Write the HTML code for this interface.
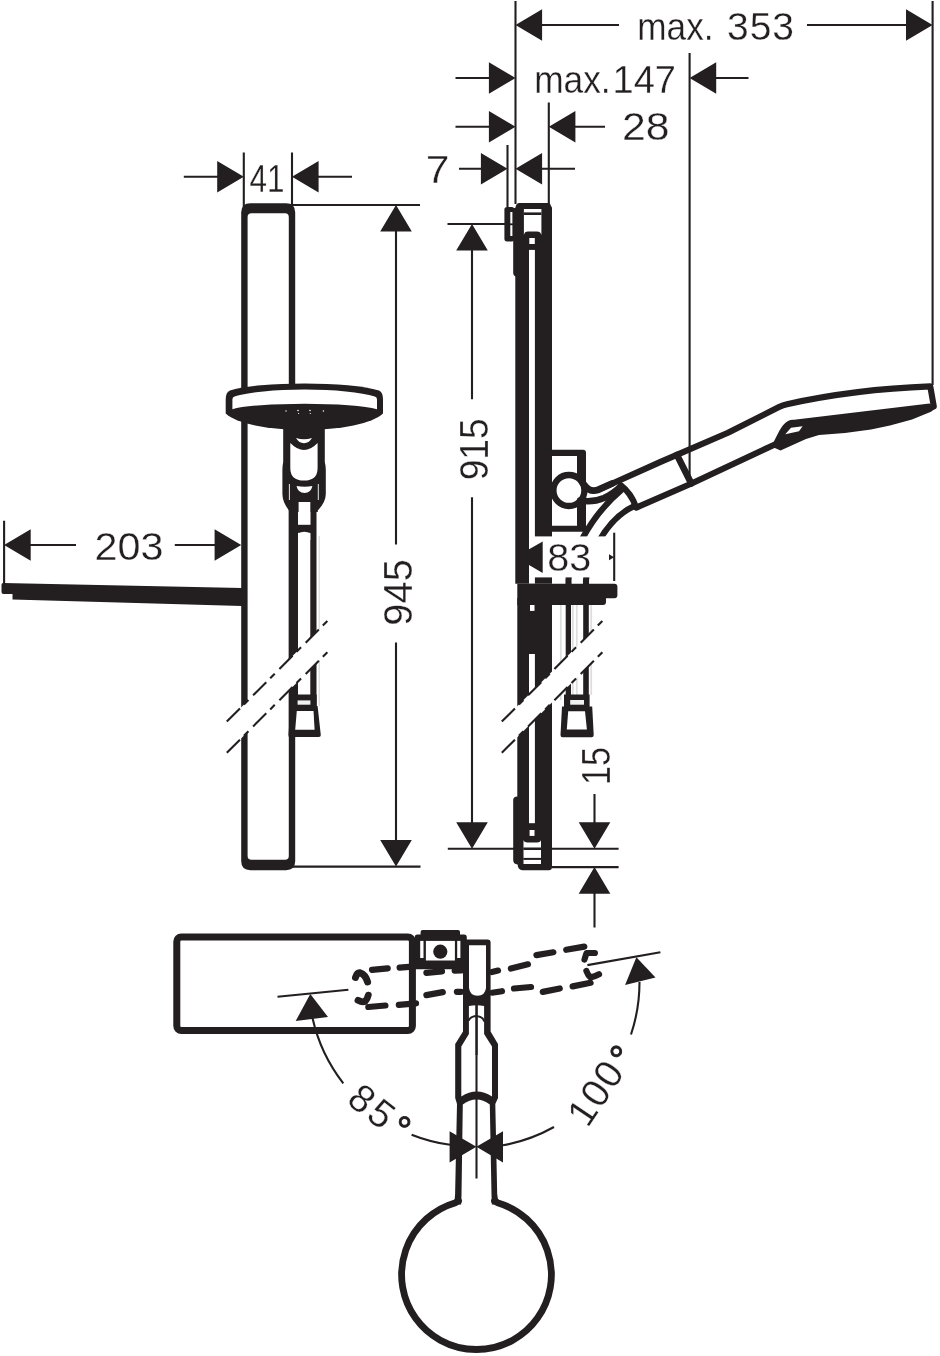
<!DOCTYPE html>
<html><head><meta charset="utf-8"><title>Dimensional drawing</title>
<style>
html,body{margin:0;padding:0;background:#fff;}
svg{display:block;will-change:transform;}
text{font-family:"Liberation Sans",sans-serif;fill:#231f20;stroke:#fff;stroke-width:0.3;paint-order:fill stroke;}
.k{fill:#231f20;}
.w{fill:#fff;}
.t{stroke:#231f20;stroke-width:2.1;fill:none;}
.s{stroke:#231f20;fill:none;stroke-linecap:round;stroke-linejoin:round;}
</style></head>
<body>
<svg width="940" height="1356" viewBox="0 0 940 1356">
<rect width="940" height="1356" fill="#fff"/>

<!-- ================= DIMENSIONS TOP RIGHT ================= -->
<g id="dims-top">
<path class="t" d="M515.5 1V204 M932.6 1V385 M689.6 53V475 M548.8 102.5V204 M507.5 145V207"/>
<path class="t" d="M541 25H619 M807 25H907"/>
<path class="k" d="M515.5 25L542.1 9.2V40.8Z M932.6 25L906.0 9.2V40.8Z"/>
<text y="40" font-size="39"><tspan x="637.3" textLength="86" lengthAdjust="spacingAndGlyphs">max. </tspan><tspan x="727" textLength="67" lengthAdjust="spacing">353</tspan></text>
<path class="t" d="M455.5 78H490 M715 78H748.5"/>
<path class="k" d="M515.5 78L488.9 62.2V93.8Z M689.6 78L716.2 62.2V93.8Z"/>
<text y="92.5" font-size="38.5"><tspan x="534.2" textLength="76.5" lengthAdjust="spacingAndGlyphs">max.</tspan><tspan x="612.5" textLength="63.5" lengthAdjust="spacingAndGlyphs">147</tspan></text>
<path class="t" d="M455.5 126.8H490 M575 126.8H605"/>
<path class="k" d="M515.5 126.8L488.9 111.0V142.6Z M548.8 126.8L575.4 111.0V142.6Z"/>
<text x="622" y="140" font-size="38.5" textLength="47.5" lengthAdjust="spacingAndGlyphs">28</text>
<path class="t" d="M459 168.8H482 M542 168.8H575"/>
<path class="k" d="M507.5 168.8L480.9 153.0V184.60000000000002Z M515.5 168.8L542.1 153.0V184.60000000000002Z"/>
<text x="425.7" y="183" font-size="38.5" textLength="23.7" lengthAdjust="spacingAndGlyphs">7</text>
</g>
<g id="dims-left">
<path class="t" d="M243.8 152.5V207 M292 152.5V205 M183.8 176.8H218 M318 176.8H352"/>
<path class="k" d="M243.8 176.8L217.20000000000002 161.0V192.60000000000002Z M292 176.8L318.6 161.0V192.60000000000002Z"/>
<text x="249.5" y="191.7" font-size="38" textLength="35" lengthAdjust="spacingAndGlyphs">41</text>
<path class="t" d="M290 205H420 M290 866.6H420.5 M396 231V544.5 M396 642.6V842"/>
<path class="k" d="M396 205L380.2 231.6H411.8Z M396 866.6L380.2 840.0H411.8Z"/>
<text transform="translate(411.7 625.7) rotate(-90)" font-size="41.5" textLength="66.5" lengthAdjust="spacingAndGlyphs">945</text>
<path class="t" d="M447.5 224H505 M447.8 848.8H618.6 M552 867.1H618.6 M472 250V399.3 M472 497.3V824"/>
<path class="k" d="M472 224L456.2 250.6H487.8Z M472 848.8L456.2 822.1999999999999H487.8Z"/>
<text transform="translate(488.2 480.3) rotate(-90)" font-size="41.5" textLength="62" lengthAdjust="spacingAndGlyphs">915</text>
<path class="t" d="M4.1 520.7V584 M29 545H76 M174.8 545H219"/>
<path class="k" d="M4.1 545L30.700000000000003 529.2V560.8Z M241.2 545L214.6 529.2V560.8Z"/>
<text x="94.5" y="560.3" font-size="38.5" textLength="69" lengthAdjust="spacingAndGlyphs">203</text>
<path class="t" d="M594.5 794V824 M594.5 892V927.4"/>
<path class="k" d="M594.5 848.8L578.7 822.1999999999999H610.3Z M594.5 867.1L578.7 893.7H610.3Z"/>
<text transform="translate(609.7 785) rotate(-90)" font-size="41" textLength="38" lengthAdjust="spacingAndGlyphs">15</text>
</g>

<!--LEFTVIEW_START-->
<g id="left-view">
<!-- shelf -->
<path class="k" d="M3 583 Q1.5 583 1.5 585 V592 Q1.5 594 3.5 594 H12.5 V599.6 L242 606 V588 Z"/>
<!-- bar: outer black, inner white -->
<path class="k" d="M241.2 212.5 Q241.2 203.3 250.4 203.3 H286 Q295.2 203.3 295.2 212.5 V861 Q295.2 870.2 286 870.2 H250.4 Q241.2 870.2 241.2 861Z"/>
<path class="w" d="M247.6 217 Q247.6 213.2 251.5 213.2 H285 Q288.8 213.2 288.8 217 V856 Q288.8 859.8 285 859.8 H251.5 Q247.6 859.8 247.6 856Z"/>
<!-- hose (below handle) -->
<rect class="k" x="288.8" y="505" width="9.2" height="232"/>
<rect class="k" x="310.3" y="505" width="6.2" height="232"/>
<rect x="318.6" y="536" width="1.2" height="170" fill="#d8d8d8"/>
<!-- break band -->
<path class="w" d="M221 727.4 L334 614.4 V645.6 L221 758.6Z"/>
<path class="t" stroke-width="2.5" stroke-dasharray="18.6 5.6 6.4 6.6" d="M226.8 721.6L328.6 619.8 M226.8 752.8L328.6 651"/>
<!-- hose connector -->
<path class="k" d="M295.2 694.4H316.7V706H317.6L320.8 735Q320.8 737 318.8 737H290.5Q288.4 737 288.5 735L290.5 706H295.2Z"/>
<rect x="297.6" y="700.4" width="12.8" height="4.3" fill="#f1f1f1"/>
<path class="w" d="M296.8 711H313.5L314.6 729.8H295.2Z"/>
<!-- shower head (front) -->
<path class="k" d="M225.7 399.5 Q225.7 392 230 390.5 A85 13.7 0 0 1 379 390.5 Q383 392 383 399.5 V413.5 A82 23 0 0 1 225.7 413.5Z"/>
<path class="w" d="M232.4 399.5 Q232.4 397 234.5 396.6 A79 13 0 0 1 374.8 396.6 Q377 397 377 399.5 V409.2 A78 8.9 0 0 0 232.4 409.2Z"/>
<g fill="#fff"><circle cx="286" cy="411" r="0.7"/><circle cx="298" cy="410.5" r="0.8"/><circle cx="298.6" cy="413.5" r="0.6"/><circle cx="310" cy="410.5" r="0.8"/><circle cx="310.3" cy="413.5" r="0.6"/><circle cx="323.4" cy="411" r="0.7"/></g>
<!-- handle -->
<path class="k" d="M283.2 428 H324.8 V462 Q325.8 466 325.8 470 V494 Q325.8 502 317.8 510.5 V512 H289 V510.5 Q282.4 502 282.4 494 V470 Q282.4 466 283.2 462Z"/>
<!-- inner white 1 -->
<path class="w" d="M290.3 443 Q304 457 317.6 443 V468 Q317.6 480.6 304 480.6 Q290.3 480.6 290.3 468Z"/>
<!-- crescent 1 -->
<path class="w" d="M296 438 Q304 440.5 312 438 Q309 443.2 304 443.2 Q299 443.2 296 438Z"/>
<!-- crescent 2 -->
<path class="w" d="M296.5 486 Q304.5 487.5 312.4 486 Q311 493 304.5 493 Q298 493 296.5 486Z"/>
<path d="M289.4 484V500 M318.3 484V500" stroke="#fff" stroke-width="0.9" fill="none"/>
<!-- white rect 3 and hose interior -->
<rect class="w" x="298.6" y="502" width="11.7" height="22.8"/>
<rect class="k" x="297" y="524.8" width="14" height="8"/>
<path class="w" d="M298.2 533.5 Q304.3 530 310.3 533.5 V540 H298.2Z"/>
</g>
<!--LEFTVIEW_END-->
<!--RIGHTVIEW_START-->
<g id="right-view">
<!-- bar side view -->
<path class="k" d="M519.5 203 H549.6 L552 207.8 V583.7 H515.3 V276.5 Q513.2 276 513.2 273 V210 Q513.2 207.8 515.4 207.8 Q516 203 519.5 203Z"/>
<path class="k" d="M517.3 598 H552 V867 Q552 870.2 548.8 870.2 H522.5 Q518 870.2 517.6 864.5 Q513.2 864 513.2 860 V800 Q513.2 796.4 517.3 796.4Z"/>
<!-- white slot -->
<rect class="w" x="529" y="249.9" width="5.9" height="333.8"/>
<rect class="w" x="529.3" y="238" width="5.5" height="6"/>
<rect class="w" x="530" y="604.2" width="4.5" height="6.7"/>
<rect class="w" x="529" y="654" width="5.9" height="169.2"/>
<rect class="w" x="529.6" y="830" width="4.9" height="5.9"/>
<!-- top inner white -->
<path class="w" d="M523.9 209 H541.4 V235 Q540.5 231.6 537 231.6 H528 Q524.5 231.6 523.9 235Z"/>
<rect class="k" x="523.9" y="212.4" width="17.5" height="2.6"/>
<!-- bottom inner white -->
<path class="w" d="M523.5 839.8 Q523.8 842.4 527.5 842.4 H537 Q540.7 842.4 541 839.8 V864.1 H523.5Z"/>
<rect class="k" x="523.3" y="857.9" width="18" height="2"/>
<rect class="k" x="523.3" y="847.5" width="18" height="2.5"/>
<!-- top bracket -->
<rect class="k" x="504.4" y="207" width="10" height="34.4" rx="2.6"/>
<rect class="w" x="510.3" y="212" width="2.1" height="24"/>
<rect class="k" x="510" y="223.4" width="3" height="1.8"/>
<!-- slider box -->
<path class="k" d="M552 449.8 H583 Q586 449.8 586 452.8 V528.7 Q586 531.7 583 531.7 H552 V525.7 H577 V456 H552Z"/>
<!-- pivot circle -->
<circle cx="568.9" cy="490.5" r="15.5" fill="#fff" stroke="#231f20" stroke-width="6.3"/>
<!-- handle -->
<g class="s" stroke-width="6.1">
<path d="M582 482 C586 487 589 493 598.5 489.7 L612 483.5" stroke-width="6.8"/>
<path d="M598.5 489.7 L660 462.1 L728 432.8 L779 407 Q783 405 787 404.2 C820 396.9 870 388.7 930.3 386.4 L933.8 406.5"/>
<path d="M636.3 507.6 L691 483.8 L762 450.4 L776 444"/>
<path d="M621 485.5 Q631 493 636 507"/>
<path d="M677 455 L691.3 483.5" stroke-width="6.6"/>
<path d="M580 500.6 C587 501.8 597 501 604 498 Q614 493.2 621 486" stroke-width="6.6"/>
<path d="M568.5 584 V580 C569 562 586 520 621.7 489.6"/>
<path d="M586 584 V580 C587 560 604 520.5 633.4 506.6"/>
</g>
<!-- shower head side face -->
<path class="k" d="M788 421 Q790.5 419.6 794 419.8 L929.5 403.6 L936 408 L931 411.8 L912 419.5 L890 425.5 L871 429.5 L845 433 L819 435 L806 439 L780.5 450.5 L771.5 446.5 Q775.5 438 779.5 430.5 Q783.5 423.5 788 421Z"/>
<path class="w" d="M785.3 434.3 L791 427.8 L802.6 426.2 L799 431.2Z"/>
<!-- 83 box -->
<rect class="w" x="529" y="536.4" width="80" height="41"/>
<path class="k" d="M529 549.3 L542.7 541.6 V572.9 L529 565.1Z"/>
<path class="k" d="M614.2 557.2 L609 554.2 V560.2Z"/>
<path class="t" stroke-width="2" d="M614.2 532.7V581"/>
<text x="547.2" y="571.4" font-size="38" textLength="44" lengthAdjust="spacingAndGlyphs">83</text>
<!-- shelf side -->
<path class="k" d="M517.3 583.7 H614.4 Q617.4 583.7 617.4 586.7 V595.2 Q617.4 598.2 614.4 598.2 H606 V602 Q606 604.9 603 604.9 H517.3Z"/>
<!-- hose below shelf -->
<rect class="k" x="565.7" y="600" width="5.3" height="100"/>
<rect class="k" x="583.2" y="600" width="5.6" height="100"/>
<path d="M560.8 605V700 M572.8 605V695 M576.8 605V695 M591.2 605V695" stroke="#dedede" stroke-width="1.8" fill="none"/>
<!-- break band -->
<path class="w" d="M496 727.4 L609 614.4 V645.6 L496 758.6Z"/>
<path class="t" stroke-width="2.5" stroke-dasharray="18.6 5.6 6.4 6.6" d="M501.8 721.6L603.6 619.8 M501.8 752.8L603.6 651"/>
<!-- connector -->
<path class="k" d="M564 694.4H589.6V706.5H592.2L593.7 735Q593.8 737.3 591.5 737.3H562.7Q560.4 737.3 560.5 735L562 706.5H564Z"/>
<rect x="570.2" y="700" width="13.8" height="4.7" fill="#f1f1f1"/>
<path class="w" d="M568.2 711.3H585L586.9 729.6H566.8Z"/>
</g>
<!--RIGHTVIEW_END-->
<!--TOPVIEW_START-->
<g id="top-view">
<!-- axis thin lines -->
<!-- shelf -->
<rect x="176.8" y="937" width="235.6" height="93.5" rx="4.5" fill="#fff" stroke="#231f20" stroke-width="7"/>
<path class="t" stroke-width="1.8" d="M277.5 996.8L348.4 989.8 M587.4 965.1L660.4 952.3"/>
<!-- holder -->
<path class="k" d="M420.6 932 Q420.6 930 422.6 930 H458 Q460 930 460 932 V934.6 H464 Q466.8 934.6 466.8 937.4 V969.2 H463 V972.9 H453.4 V969.2 H414.7 V937.4 Q414.7 934.6 417.5 934.6 H420.6Z"/>
<rect class="w" x="425.9" y="940.9" width="29" height="19.6"/>
<rect class="w" x="420.2" y="940.9" width="3.3" height="17.1"/>
<rect class="w" x="457.2" y="940.9" width="3.2" height="17.1"/>
<circle class="k" cx="440.3" cy="951.7" r="7.1"/>
<!-- handle tube top view -->
<path class="k" d="M463 942.4 Q463 939.4 466 939.4 H487.6 Q490.6 939.4 490.6 942.4 V1031.5 L498 1044 V1098 L495.3 1104 L497.2 1194 Q497.4 1200 500 1204.5 H453.5 Q455 1200 455.1 1194 L457 1104 L455.2 1098 V1044 L463 1031.5Z"/>
<path class="w" d="M469 945.3 H486 V988 Q485 995.8 477.5 995.8 Q470 995.8 469 988Z"/>
<path class="w" d="M468.9 1006 Q476.6 1004.6 484.1 1006 V1034 L492 1046.5 V1096.5 Q476.7 1086.5 461.3 1096.5 V1046.5 L468.9 1034Z"/>
<path class="s" stroke-width="2" d="M468.9 1020 Q470.8 1016.4 476.6 1016 Q482.4 1016.4 484.1 1021"/>
<path class="t" stroke-width="2.9" d="M476.6 1005V1055"/>
<path class="w" d="M462.8 1104.5 Q476.4 1094.5 489.8 1104.5 L491.5 1195 L492 1209 H461 L461.5 1195Z"/>
<!-- circle -->
<path class="s" stroke-width="6.8" d="M458.5 1200.8 L455.5 1202.7 A74.9 74.9 0 1 0 497.5 1202.7 L494.5 1200.8" stroke-linejoin="miter" stroke-linecap="butt"/>
<path class="t" stroke-width="1.9" d="M476.5 1000V1178.5"/>
<!-- dashed handle positions -->
<g class="s" stroke-width="6.2">
<path d="M372 969.8L387.7 968.3 M399.6 967.6L409 966.9 M426.4 972.8L442 971.3 M454.7 970.6L461 970.5"/>
<path d="M368.3 1007L385.4 1005.5 M398.8 1004.8L416 1003.3 M426.4 995.1L442.8 992.1 M456.9 991.8L461 991.8"/>
<path d="M355.5 977.5 Q357 972.5 360 972.8 Q365.5 974.5 367.6 982" stroke-width="7"/>
<path d="M358 1000.3 Q362 1002.5 365 1001.5 Q367.5 999 368.3 995.1" stroke-width="6.8"/>
<path d="M492 972L498 970.6 M510.9 968.5L527.9 964.3 M536.4 955.1L553.4 952.3 M566.2 949.8L584.3 946.6"/>
<path d="M492 992.7L502 991.2 M514 988.5L531 987 M542.8 991.9L559.8 988.5 M572.6 986.4L590.6 982.8"/>
<path d="M594.9 953 H586.6 Q585.5 956 584.5 959.5"/>
<path d="M586.4 971 Q588 975.5 590.6 977.4 Q595 976.5 599 974.3"/>
</g>
<!-- angle arcs -->
<path class="t" stroke-width="2" d="M312.5 1018 A165 165 0 0 0 343.3 1083.3 M411.6 1134.7 A165 165 0 0 0 450 1144.8"/>
<path class="t" stroke-width="2" d="M639.5 982 A165 165 0 0 1 631 1034.5 M554 1127 A165 165 0 0 1 503 1145.3"/>
<path class="k" d="M310.3 994 L295.7 1021 L328 1017Z"/>
<path class="k" d="M636.4 957.2 L625.1 984.9 L655.5 977.4Z"/>
<path class="k" d="M476.4 1146.8 L449.6 1131.3 V1162.6Z M476.4 1146.8 L503 1131.3 V1162.6Z"/>
<text transform="translate(345.2 1102.5) rotate(38)" font-size="39"><tspan>8</tspan><tspan dx="3">5</tspan><tspan dx="4.4" dy="0.5" stroke="#231f20" stroke-width="0.9">°</tspan></text>
<text transform="translate(587.5 1128.8) rotate(-56)" font-size="39"><tspan>1</tspan><tspan dx="1.4">0</tspan><tspan dx="1.4">0</tspan><tspan dx="4.5" dy="2.3" stroke="#231f20" stroke-width="0.9">°</tspan></text>
</g>
<!--TOPVIEW_END-->
</svg>
</body></html>
